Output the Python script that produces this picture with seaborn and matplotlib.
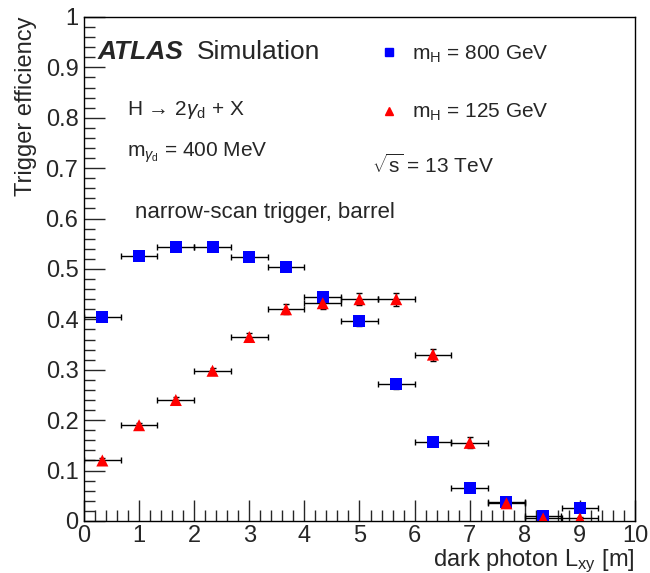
import numpy as np
import pandas as pd
import matplotlib
matplotlib.use("Agg")
import matplotlib.pyplot as plt
import seaborn as sns
from matplotlib.lines import Line2D
from matplotlib.ticker import MultipleLocator, FuncFormatter

# dados
lxy = [0.333, 1.0, 1.667, 2.333, 3.0, 3.667, 4.333, 5.0, 5.667, 6.333, 7.0, 7.667, 8.333, 9.0]
eff_800 = [0.405, 0.525, 0.543, 0.544, 0.523, 0.503, 0.445, 0.397, 0.271, 0.157, 0.065, 0.037, 0.010, 0.025]
err_800 = [0.005, 0.006, 0.006, 0.006, 0.007, 0.008, 0.009, 0.010, 0.010, 0.007, 0.005, 0.004, 0.003, 0.004]
eff_125 = [0.120, 0.190, 0.240, 0.298, 0.365, 0.420, 0.432, 0.440, 0.440, 0.330, 0.155, 0.035, 0.005, 0.005]
err_125 = [0.004, 0.005, 0.005, 0.006, 0.007, 0.010, 0.011, 0.012, 0.013, 0.012, 0.011, 0.006, 0.003, 0.003]
bin_half = 0.333

df = pd.DataFrame({
    "lxy": lxy * 2,
    "eff": eff_800 + eff_125,
    "err": err_800 + err_125,
    "amostra": ["800"] * len(lxy) + ["125"] * len(lxy),
})

sns.set_style("ticks")
plt.rcParams["font.family"] = ["Liberation Sans", "DejaVu Sans"]
plt.rcParams["mathtext.fontset"] = "custom"
plt.rcParams["mathtext.rm"] = "Liberation Sans"
plt.rcParams["mathtext.it"] = "Liberation Sans:italic"
plt.rcParams["mathtext.bf"] = "Liberation Sans:bold"

fig = plt.figure(figsize=(6.5, 5.73), dpi=100)
ax = fig.add_axes([0.1292, 0.0908, 0.8477, 0.8796])

# barras de erro (pretas)
for amostra in ["800", "125"]:
    sub = df[df["amostra"] == amostra]
    ax.errorbar(sub["lxy"], sub["eff"], xerr=bin_half, yerr=sub["err"], fmt="none",
                ecolor="black", elinewidth=1.0, capsize=2.5, capthick=1.0, zorder=2)

sns.scatterplot(data=df, x="lxy", y="eff", hue="amostra", style="amostra",
                palette={"800": "#0000ff", "125": "#ff0000"},
                markers={"800": "s", "125": "^"}, s=75, linewidth=0,
                legend=False, ax=ax, zorder=3)

ax.set_xlim(0, 10)
ax.set_ylim(0, 1)
ax.xaxis.set_major_locator(MultipleLocator(1))
ax.xaxis.set_minor_locator(MultipleLocator(0.2))
ax.yaxis.set_major_locator(MultipleLocator(0.1))
ax.yaxis.set_minor_locator(MultipleLocator(0.02))
ax.yaxis.set_major_formatter(FuncFormatter(lambda v, p: "%g" % round(v, 2)))
ax.tick_params(which="major", direction="in", length=15, width=1, labelsize=17)
ax.tick_params(which="minor", direction="in", length=8, width=1)
ax.tick_params(axis="x", pad=3)
ax.tick_params(axis="y", pad=4)
for s in ax.spines.values():
    s.set_linewidth(1.0)
    s.set_color("black")

ax.set_xlabel(r"dark photon L$_{\mathrm{xy}}$ [m]", fontsize=17, loc="right", labelpad=0)
ax.set_ylabel("Trigger efficiency", fontsize=17, loc="top", labelpad=6)

# textos
ax.text(0.024, 0.93, "ATLAS", transform=ax.transAxes, fontsize=19, fontweight="bold",
        style="italic", va="center")
ax.text(0.205, 0.93, "Simulation", transform=ax.transAxes, fontsize=19, va="center")
ax.text(0.078, 0.815, r"H → 2$\gamma_{\mathrm{d}}$ + X", transform=ax.transAxes,
        fontsize=15, va="center")
ax.text(0.078, 0.73, r"m$_{\gamma_{\mathrm{d}}}$ = 400 MeV", transform=ax.transAxes,
        fontsize=15, va="center")
ax.text(0.093, 0.613, "narrow-scan trigger, barrel", transform=ax.transAxes,
        fontsize=16, va="center")
ax.text(0.523, 0.705, r"$\sqrt{\mathrm{s}}$ = 13 TeV", transform=ax.transAxes,
        fontsize=15, va="center")

handles = [
    Line2D([], [], marker="s", color="#0000ff", linestyle="none", markersize=6),
    Line2D([], [], marker="^", color="#ff0000", linestyle="none", markersize=6),
]
leg = ax.legend(handles, [r"m$_{\mathrm{H}}$ = 800 GeV", r"m$_{\mathrm{H}}$ = 125 GeV"],
                loc="upper left", bbox_to_anchor=(0.5, 0.985), frameon=False,
                fontsize=15, labelspacing=1.8, handletextpad=0.6, handlelength=1.0)

fig.savefig("out.png", dpi=100)
